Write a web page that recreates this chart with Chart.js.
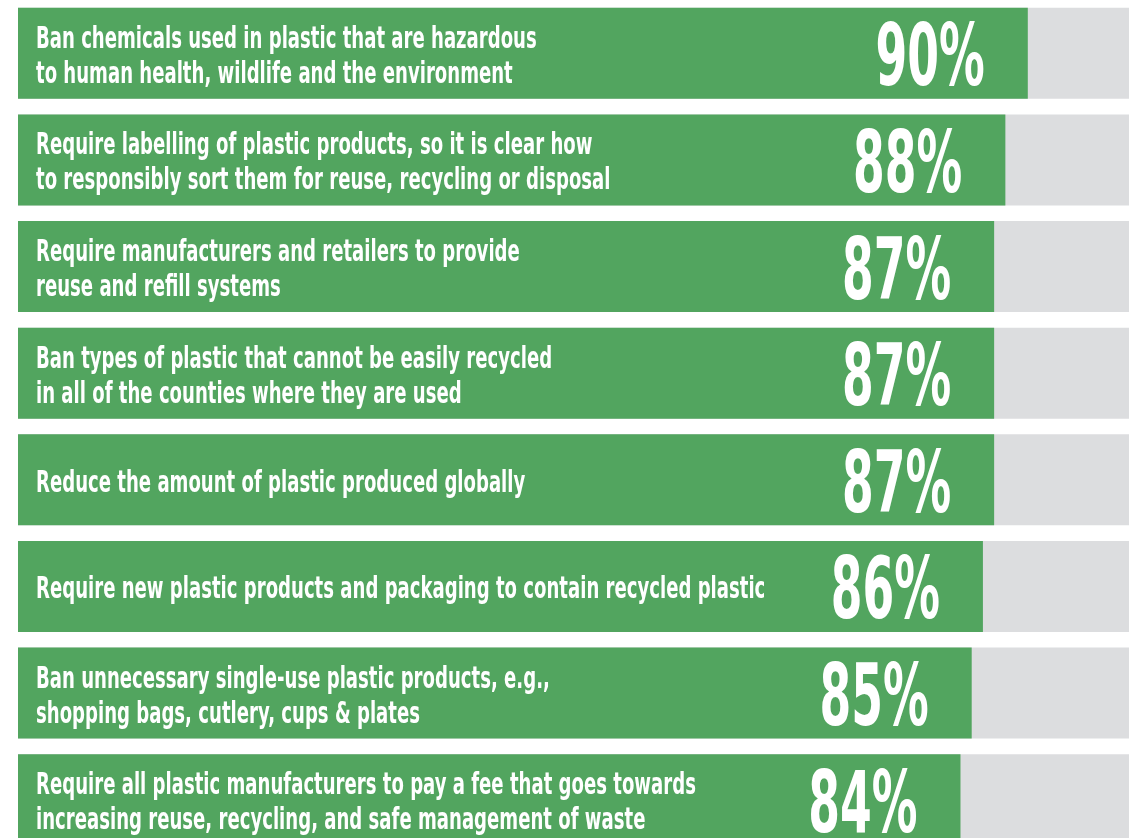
<!DOCTYPE html>
<html><head><meta charset="utf-8">
<script src="https://cdn.jsdelivr.net/npm/chart.js@4"></script>
<style>
html,body{margin:0;padding:0;background:#fff;overflow:hidden;}
#wrap{width:1129px;height:838px;overflow:hidden;position:relative;}
canvas{display:block;}
</style></head><body>
<div id="wrap"><canvas id="c" width="1140" height="853"></canvas></div>
<script>
const categories = [
  ["Ban chemicals used in plastic that are hazardous", "to human health, wildlife and the environment"],
  ["Require labelling of plastic products, so it is clear how", "to responsibly sort them for reuse, recycling or disposal"],
  ["Require manufacturers and retailers to provide", "reuse and refill systems"],
  ["Ban types of plastic that cannot be easily recycled", "in all of the counties where they are used"],
  ["Reduce the amount of plastic produced globally"],
  ["Require new plastic products and packaging to contain recycled plastic"],
  ["Ban unnecessary single-use plastic products, e.g.,", "shopping bags, cutlery, cups & plates"],
  ["Require all plastic manufacturers to pay a fee that goes towards", "increasing reuse, recycling, and safe management of waste"]
];
const values = [90, 88, 87, 87, 87, 86, 85, 84];
const trackValues = [100, 100, 100, 100, 100, 100, 100, 100];
const valueLabels = values.map(v => v + '%');

const GREEN = '#52a55f';
const GREY = '#dcdddf';
const TEXT_FONT = 'bold 30px "DejaVu Sans Condensed", "DejaVu Sans", sans-serif';
const NUM_FONT = 'bold 86px "DejaVu Sans Condensed", "DejaVu Sans", sans-serif';

const labelPlugin = {
  id: 'barLabels',
  afterDatasetsDraw(chart) {
    const ctx = chart.ctx;
    const meta = chart.getDatasetMeta(0);
    const xs = chart.scales.x;
    ctx.save();
    ctx.fillStyle = '#ffffff';
    meta.data.forEach((bar, i) => {
      const lines = categories[i];
      const cy = bar.y;
      ctx.font = TEXT_FONT;
      ctx.textAlign = 'left';
      ctx.textBaseline = 'alphabetic';
      lines.forEach((ln, j) => {
        const by = cy + 12 + (j - (lines.length - 1) / 2) * 35;
        ctx.save();
        ctx.translate(chart.chartArea.left + 18, by);
        ctx.scale(0.67, 1);
        ctx.fillText(ln, 0, 0);
        ctx.restore();
      });
      ctx.font = NUM_FONT;
      ctx.textAlign = 'right';
      ctx.save();
      ctx.translate(xs.getPixelForValue(values[i]) - 43, cy + 32);
      ctx.scale(0.59, 1);
      ctx.fillText(valueLabels[i], 0, 0);
      ctx.restore();
    });
    ctx.restore();
  }
};

new Chart(document.getElementById('c'), {
  type: 'bar',
  data: {
    labels: categories.map(l => l.join(' ')),
    datasets: [
      { data: values, backgroundColor: GREEN, grouped: false, barPercentage: 0.853, categoryPercentage: 1, borderWidth: 0 },
      { data: trackValues, backgroundColor: GREY, grouped: false, barPercentage: 0.853, categoryPercentage: 1, borderWidth: 0 }
    ]
  },
  options: {
    indexAxis: 'y',
    responsive: false,
    animation: false,
    layout: { padding: { left: 18, right: 0, top: 0, bottom: 0 } },
    scales: {
      x: { min: 0, max: 100, display: false },
      y: { display: false }
    },
    plugins: { legend: { display: false }, tooltip: { enabled: false } }
  },
  plugins: [labelPlugin]
});
</script>
</body></html>
